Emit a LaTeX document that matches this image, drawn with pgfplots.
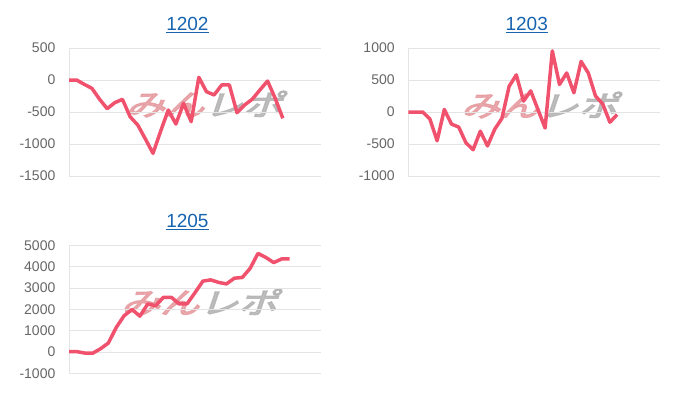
\documentclass[border=0pt]{standalone}
\usepackage{pgfplots}
\pgfplotsset{compat=1.18}
\usepackage{fontspec}
\setmainfont{Liberation Sans}
\newfontfamily\jp[FakeBold=4]{Noto Sans CJK JP}
\definecolor{linec}{RGB}{240,82,110}
\definecolor{gridc}{RGB}{228,228,228}
\definecolor{zeroc}{RGB}{178,178,178}
\definecolor{tickc}{RGB}{102,102,102}
\definecolor{titlec}{RGB}{22,100,176}
\definecolor{wmpink}{RGB}{228,150,155}
\definecolor{wmgray}{RGB}{175,175,175}
\pgfplotsset{mini/.style={
  scale only axis, width=252pt, height=128pt, anchor=south west,
  axis x line=none, axis y line=left,
  y axis line style={draw=gridc, line width=0.9pt, -},
  ytick style={draw=none},
  ymajorgrids, major grid style={draw=gridc, line width=0.9pt},
  extra y ticks={0}, extra y tick labels={},
  extra y tick style={grid style={draw=zeroc, line width=1pt}},
  yticklabel style={font=\fontsize{14}{14}\selectfont, text=tickc, anchor=east, xshift=-8pt},
  /pgf/number format/assume math mode=true,
  /pgf/number format/1000 sep={},
  scaled y ticks=false,
  xmin=0,
  title style={font=\fontsize{19}{19}\selectfont, text=titlec, anchor=base, at={(0.47,1)}, yshift=11.5pt},
}}
\tikzset{ln/.style={draw=linec, line width=3.5pt, line join=round, mark=none},
  wmk/.style={font=\fontsize{29}{29}\selectfont, xscale=1.35, xslant=0.25, opacity=0.8}}
\newcommand{\wm}{{\jp\color{wmpink}みん}{\jp\color{wmgray}レポ}}
\begin{document}
\begin{tikzpicture}
\path[use as bounding box] (0,0) rectangle (700pt,400pt);
\node[wmk] at (208pt,296pt) {\wm};
\node[wmk] at (543pt,295pt) {\wm};
\node[wmk] at (203pt,98pt) {\wm};
% 1202
\begin{axis}[mini, at={(69pt,224pt)}, xmax=33, ymin=-1500, ymax=500,
  ytick={-1500,-1000,-500,0,500}, title={\underline{1202}}]
\addplot[ln] coordinates {(0,0) (1,0) (2,-68) (3,-130) (4,-300) (5,-448) (6,-354) (7,-302) (8,-573) (9,-703) (10,-920) (11,-1146) (12,-800) (13,-469) (14,-688) (15,-365) (16,-651) (17,42) (18,-182) (19,-234) (20,-78) (21,-78) (22,-510) (23,-390) (24,-300) (25,-156) (26,-16) (27,-286) (28,-598)};
\end{axis}
% 1203
\begin{axis}[mini, at={(408.3pt,224pt)}, xmax=35, ymin=-1000, ymax=1000,
  ytick={-1000,-500,0,500,1000}, title={\underline{1203}}]
\addplot[ln] coordinates {(0,0) (1,0) (2,0) (3,-110) (4,-450) (5,40) (6,-190) (7,-235) (8,-480) (9,-590) (10,-300) (11,-530) (12,-270) (13,-100) (14,400) (15,580) (16,170) (17,330) (18,40) (19,-250) (20,955) (21,430) (22,610) (23,300) (24,790) (25,610) (26,250) (27,125) (28,-160) (29,-40)};
\end{axis}
% 1205
\begin{axis}[mini, at={(69pt,26.7pt)}, xmax=32, ymin=-1000, ymax=5000,
  ytick={-1000,0,1000,2000,3000,4000,5000}, title={\underline{1205}}]
\addplot[ln] coordinates {(0,15) (1,15) (2,-50) (3,-60) (4,150) (5,420) (6,1150) (7,1700) (8,1990) (9,1680) (10,2250) (11,2170) (12,2560) (13,2560) (14,2250) (15,2260) (16,2780) (17,3320) (18,3380) (19,3260) (20,3190) (21,3460) (22,3490) (23,3920) (24,4620) (25,4430) (26,4190) (27,4360) (28,4360)};
\end{axis}
\end{tikzpicture}
\end{document}
